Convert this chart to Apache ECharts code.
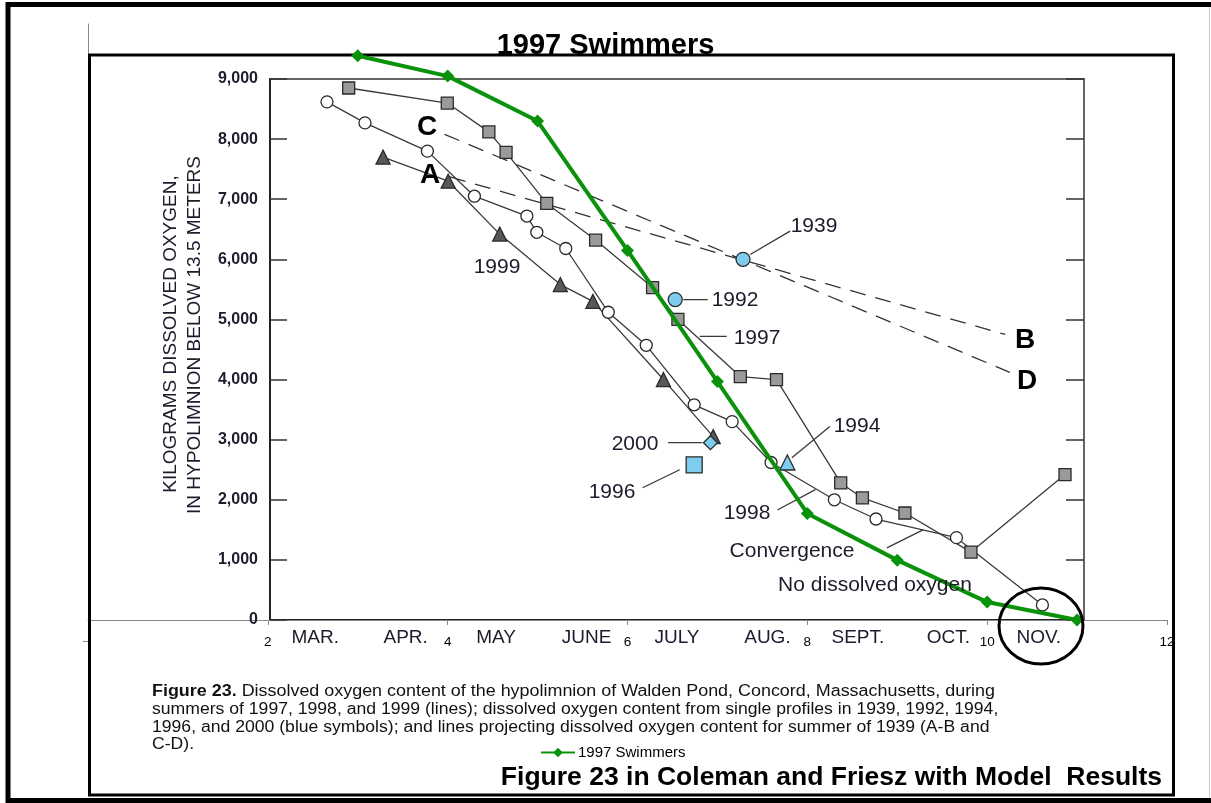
<!DOCTYPE html>
<html>
<head>
<meta charset="utf-8">
<title>1997 Swimmers</title>
<script src="https://cdn.jsdelivr.net/npm/echarts@6/dist/echarts.min.js"></script>
<style>
html, body { margin: 0; padding: 0; background: #fff; }
#chart { width: 1211px; height: 803px; }
</style>
</head>
<body>
<div id="chart"></div>
<script>
// model results, x = month number
var swimX = [3, 4, 5, 6, 7, 8, 9, 10, 11];
var swimY = [9420, 9080, 8330, 6170, 3980, 1780, 1000, 300, 0];

// figure 23 (scanned), x = months after 1 March, y = kilograms
var months = ['MAR.', 'APR.', 'MAY', 'JUNE', 'JULY', 'AUG.', 'SEPT.', 'OCT.', 'NOV.'];
var yr1997 = [[0.87, 8850], [1.96, 8600], [2.42, 8120], [2.61, 7780], [3.06, 6930], [3.60, 6320],
	[4.23, 5530], [4.51, 5000], [5.20, 4050], [5.60, 4000], [6.31, 2280], [6.55, 2030],
	[7.02, 1780], [7.75, 1130], [8.79, 2420]];
var yr1998 = [[0.63, 8620], [1.05, 8270], [1.74, 7800], [2.26, 7050], [2.84, 6720], [2.95, 6450],
	[3.27, 6180], [3.74, 5120], [4.16, 4570], [4.69, 3580], [5.11, 3300], [5.54, 2620],
	[6.24, 2000], [6.70, 1680], [7.59, 1370], [8.54, 250]];
var yr1999 = [[1.25, 7700], [1.97, 7300], [2.54, 6420], [3.21, 5580], [3.57, 5300], [4.35, 4000], [4.90, 3050]];
var lineAB = [[1.99, 7370], [8.13, 4750]];
var lineCD = [[1.93, 8080], [8.18, 4120]];
var pt1939 = [[5.23, 6000]];
var pt1992 = [[4.48, 5330]];
var pt1994 = [[5.72, 2620]];
var pt1996 = [[4.69, 2580]];
var pt2000 = [[4.87, 2950]];
var leaders = [
	[[5.31, 6080], [5.75, 6470]],
	[[4.57, 5330], [4.84, 5330]],
	[[4.75, 4720], [5.05, 4720]],
	[[4.40, 2950], [4.78, 2950]],
	[[4.12, 2200], [4.53, 2500]],
	[[5.77, 2700], [6.19, 3220]],
	[[5.61, 1830], [6.03, 2170]],
	[[6.82, 1200], [7.22, 1500]]
];

var FONT = 'Liberation Sans, Arial, sans-serif';
var NARROW = 'Liberation Sans Narrow, Arial Narrow, sans-serif';
var INK = '#1c1c2c';
var BLUE = '#7fcdee';

var scanSeries = function(name, data, symbol, size, fill) {
	return {
		name: name,
		type: 'line',
		xAxisIndex: 3,
		yAxisIndex: 0,
		data: data,
		symbol: symbol,
		symbolSize: size,
		showAllSymbol: true,
		lineStyle: { color: '#3a3a3a', width: 1.3 },
		itemStyle: { color: fill, borderColor: '#2a2a2a', borderWidth: 1.3 },
		z: 3,
		silent: true
	};
};

var dashSeries = function(data) {
	return {
		type: 'line',
		xAxisIndex: 3,
		yAxisIndex: 0,
		data: data,
		symbol: 'none',
		lineStyle: { color: '#333', width: 1.3, type: [16, 10] },
		z: 2,
		silent: true
	};
};

var txt = function(s, x, y, size, extra, rot, sx) {
	var o = {
		type: 'text', x: x, y: y, z: 20, rotation: rot || 0, scaleX: sx || 1,
		style: { text: s, fill: INK, fontSize: size, fontFamily: FONT, align: 'center', verticalAlign: 'middle' }
	};
	for (var p in extra) o.style[p] = extra[p];
	return o;
};

// caption of the scanned figure
var capStyle = { align: 'left', fill: '#111', rich: { b: { fontWeight: 'bold', fontSize: 16, fontFamily: FONT, fill: '#111' } } };

var series = [
	dashSeries(lineAB),
	dashSeries(lineCD),
	scanSeries('1997', yr1997, 'rect', 12, '#9a9a9a'),
	scanSeries('1998', yr1998, 'circle', 12, '#ffffff'),
	scanSeries('1999', yr1999, 'triangle', 14, '#585858'),
	scanSeries('1939', pt1939, 'circle', 14, BLUE),
	scanSeries('1992', pt1992, 'circle', 14, BLUE),
	scanSeries('1994', pt1994, 'triangle', 15, BLUE),
	scanSeries('1996', pt1996, 'rect', 16, BLUE),
	scanSeries('2000', pt2000, 'diamond', 14, BLUE)
];
leaders.forEach(function(l) {
	series.push({
		type: 'line', xAxisIndex: 3, yAxisIndex: 0, data: l, symbol: 'none',
		lineStyle: { color: '#3a3a3a', width: 1.3 }, z: 2, silent: true
	});
});
series.push({
	name: '1997 Swimmers',
	type: 'line',
	xAxisIndex: 4,
	yAxisIndex: 2,
	data: swimX.map(function(x, i) { return [x, swimY[i]]; }),
	symbol: 'diamond',
	symbolSize: 13,
	lineStyle: { color: '#0a920a', width: 4 },
	itemStyle: { color: '#0a920a' },
	z: 10
});

var option = {
	animation: false,
	backgroundColor: '#fff',
	title: {
		text: '1997 Swimmers', left: 'center', top: 31, padding: 0,
		textStyle: { fontSize: 29, fontWeight: 'bold', fontFamily: FONT, color: '#000' }
	},
	legend: {
		data: ['1997 Swimmers'], left: 535, top: 740, itemWidth: 34, itemHeight: 12, itemGap: 4,
		textStyle: { fontSize: 15, fontFamily: FONT, color: '#000', padding: [0, 0, 0, -2] }
	},
	grid: [
		{ left: 270, top: 79, width: 814, height: 541 },
		{ left: 88, top: 24, width: 1079, height: 617 }
	],
	xAxis: [
		{
			gridIndex: 0, type: 'category', data: months, position: 'bottom', boundaryGap: true,
			axisLine: { onZero: false, lineStyle: { color: '#222', width: 2 } },
			axisTick: { inside: true, length: 12, lineStyle: { color: '#333', width: 1.5 } },
			axisLabel: { fontSize: 19, color: INK, fontFamily: FONT, margin: 8 },
			splitLine: { show: false }
		},
		{
			gridIndex: 0, type: 'category', data: months, position: 'bottom', boundaryGap: true,
			axisLine: { show: false, onZero: false },
			axisTick: { inside: false, length: 8, lineStyle: { color: '#333', width: 1.5 } },
			axisLabel: { show: false }
		},
		{
			gridIndex: 0, type: 'category', data: months, position: 'top', boundaryGap: true,
			axisLine: { onZero: false, lineStyle: { color: '#333', width: 1.5 } },
			axisTick: { inside: true, length: 16, lineStyle: { color: '#333', width: 1.5 } },
			axisLabel: { show: false }
		},
		{ gridIndex: 0, type: 'value', min: 0, max: 9, show: false },
		{
			gridIndex: 1, type: 'value', min: 0, max: 12, interval: 2,
			axisLine: { onZero: true, lineStyle: { color: '#8a8a8a', width: 1 } },
			axisTick: { show: true, length: 5, lineStyle: { color: '#8a8a8a' } },
			axisLabel: { fontSize: 13.5, color: '#000', fontFamily: FONT, showMinLabel: false, margin: -6 },
			splitLine: { show: false }
		}
	],
	yAxis: [
		{
			gridIndex: 0, type: 'value', min: 0, max: 9000, interval: 1000, position: 'left',
			axisLine: { show: true, lineStyle: { color: '#222', width: 2 } },
			axisTick: { show: true, inside: true, length: 17, lineStyle: { color: '#333', width: 1.5 } },
			axisLabel: {
				fontSize: 16, fontWeight: 'bold', color: INK, fontFamily: FONT, margin: 12,
				formatter: function(v) { return v.toLocaleString('en-US'); }
			},
			splitLine: { show: false }
		},
		{
			gridIndex: 0, type: 'value', min: 0, max: 9000, interval: 1000, position: 'right',
			axisLine: { show: true, lineStyle: { color: '#333', width: 1.5 } },
			axisTick: { show: true, inside: true, length: 18, lineStyle: { color: '#333', width: 1.5 } },
			axisLabel: { show: false },
			splitLine: { show: false }
		},
		{
			gridIndex: 1, type: 'value', min: -350, max: 9950,
			axisLine: { show: true, lineStyle: { color: '#8a8a8a', width: 1 } },
			axisTick: { show: true, length: 5, customValues: [-350], lineStyle: { color: '#8a8a8a' } },
			axisLabel: { show: false },
			splitLine: { show: false }
		}
	],
	graphic: [
		{ type: 'rect', shape: { x: 8, y: 4.5, width: 1240, height: 796 }, style: { fill: 'none', stroke: '#000', lineWidth: 5 }, z: 1 },
		{ type: 'line', shape: { x1: 1209.5, y1: 7, x2: 1209.5, y2: 798 }, style: { stroke: '#c8c8c8', lineWidth: 1 }, z: 1 },
		{ type: 'rect', shape: { x: 89.5, y: 55, width: 1084, height: 740 }, style: { fill: 'none', stroke: '#000', lineWidth: 3 }, z: 1 },
		{ type: 'ellipse', shape: { cx: 1041, cy: 626, rx: 42, ry: 38 }, style: { fill: 'none', stroke: '#000', lineWidth: 3 }, z: 12 },
		txt('KILOGRAMS DISSOLVED OXYGEN,', 171, 334, 19, {}, Math.PI / 2),
		txt('IN HYPOLIMNION BELOW 13.5 METERS', 195, 335, 19, {}, Math.PI / 2),
		txt('1939', 814, 226, 21, {}),
		txt('1992', 735, 300, 21, {}),
		txt('1997', 757, 338, 21, {}),
		txt('1999', 497, 267, 21, {}),
		txt('2000', 635, 444, 21, {}),
		txt('1996', 612, 492, 21, {}),
		txt('1994', 857, 426, 21, {}),
		txt('1998', 747, 513, 21, {}),
		txt('Convergence', 792, 551, 21, {}),
		txt('No dissolved oxygen', 875, 585, 21, {}),
		txt('A', 430, 175, 28, { fontWeight: 'bold', fontFamily: NARROW, fill: '#000' }),
		txt('B', 1025, 340, 28, { fontWeight: 'bold', fontFamily: NARROW, fill: '#000' }),
		txt('C', 427, 127, 28, { fontWeight: 'bold', fontFamily: NARROW, fill: '#000' }),
		txt('D', 1027, 381, 28, { fontWeight: 'bold', fontFamily: NARROW, fill: '#000' }),
		txt('{b|Figure 23.} Dissolved oxygen content of the hypolimnion of Walden Pond, Concord, Massachusetts, during', 152, 692, 16, capStyle, 0, 1.12),
		txt('summers of 1997, 1998, and 1999 (lines); dissolved oxygen content from single profiles in 1939, 1992, 1994,', 152, 710, 16, { align: 'left', fill: '#111' }, 0, 1.10),
		txt('1996, and 2000 (blue symbols); and lines projecting dissolved oxygen content for summer of 1939 (A-B and', 152, 727.5, 16, { align: 'left', fill: '#111' }, 0, 1.10),
		txt('C-D).', 152, 745, 16, { align: 'left', fill: '#111' }, 0, 1.10),
		txt('Figure 23 in Coleman and Friesz with Model  Results', 1162, 778, 26.5, { align: 'right', fontWeight: 'bold', fill: '#000' })
	],
	series: series
};

var chart = echarts.init(document.getElementById('chart'));
chart.setOption(option);
</script>
</body>
</html>
